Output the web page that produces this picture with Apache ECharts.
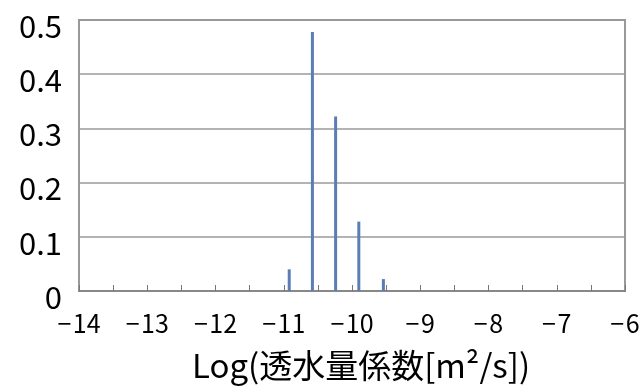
<!DOCTYPE html>
<html>
<head>
<meta charset="utf-8">
<script src="https://cdn.jsdelivr.net/npm/echarts@6/dist/echarts.min.js"></script>
<style>
html,body{margin:0;padding:0;background:#fff;}
#chart{width:639px;height:388px;}
</style>
</head>
<body>
<div id="chart"></div>
<script>
// Data
var binCenters = [-10.92, -10.58, -10.24, -9.90, -9.54];
var frequencies = [0.040, 0.478, 0.322, 0.128, 0.022];
var yTicks = [0, 0.1, 0.2, 0.3, 0.4, 0.5];
var xTickLabels = ['-14', '-13', '-12', '-11', '-10', '-9', '-8', '-7', '-6'];
var xTitle = 'Log(透水量係数[m²/s])';

var seriesData = binCenters.map(function (x, i) { return [x, frequencies[i]]; });
var font = '"Noto Sans CJK JP", "Noto Sans", sans-serif';

var chart = echarts.init(document.getElementById('chart'), null, {renderer: 'canvas'});
chart.setOption({
  animation: false,
  backgroundColor: '#ffffff',
  grid: {
    left: 79, right: 14, top: 20, bottom: 97,
    outerBoundsMode: 'none',
    containLabel: false,
    show: true, borderColor: '#999999', borderWidth: 2, backgroundColor: 'transparent'
  },
  xAxis: {
    type: 'value',
    min: -14, max: -6, interval: 0.5,
    name: xTitle,
    nameLocation: 'middle',
    nameGap: 58,
    nameTextStyle: {fontSize: 33, color: '#000', fontFamily: font, padding: [0, 0, 0, 18]},
    axisLine: {show: true, lineStyle: {color: '#888888', width: 2}},
    axisTick: {show: true, inside: true, length: 6, lineStyle: {color: '#777777', width: 1}},
    splitLine: {show: false},
    axisLabel: {
      fontSize: 25, color: '#000', fontFamily: font, margin: 20,
      formatter: function (v) {
        if (Math.abs(v - Math.round(v)) > 1e-6) return '';
        var idx = Math.round(v) + 14;
        return (xTickLabels[idx] || '').replace('-', '\u2212\u200A');
      }
    }
  },
  yAxis: {
    type: 'value',
    min: yTicks[0], max: yTicks[yTicks.length - 1], interval: 0.1,
    axisLine: {show: false},
    axisTick: {show: false},
    splitLine: {show: true, lineStyle: {color: '#9a9a9a', width: 1.5}},
    axisLabel: {
      fontSize: 31, color: '#000', fontFamily: font, margin: 17,
      verticalAlign: 'top', lineHeight: 12,
      formatter: function (v) { return v === 0 ? '0' : v.toFixed(1); }
    }
  },
  series: [{
    type: 'bar',
    data: seriesData,
    barWidth: 3,
    itemStyle: {color: '#5b7db6'}
  }]
});
</script>
</body>
</html>
